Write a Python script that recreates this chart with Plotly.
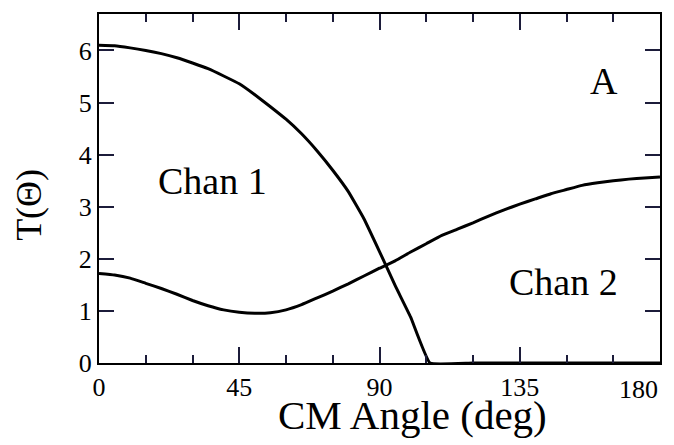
import plotly.graph_objects as go

# Channel 1 transmission vs CM angle
chan1_angle = [0, 5, 10, 15, 20, 25, 30, 35, 40, 45, 50, 55, 60, 65, 70, 75, 80, 85, 90, 95, 100, 106.2, 120, 140, 160, 180]
chan1_T = [6.10, 6.09, 6.05, 6.00, 5.94, 5.86, 5.76, 5.65, 5.51, 5.36, 5.15, 4.92, 4.68, 4.40, 4.07, 3.70, 3.29, 2.77, 2.14, 1.49, 0.88, 0.0, 0.0, 0.0, 0.0, 0.0]

# Channel 2 transmission vs CM angle
chan2_angle = [0, 5, 10, 15, 20, 25, 30, 35, 40, 45, 50, 55, 60, 65, 70, 75, 80, 85, 90, 95, 100, 105, 110, 115, 120, 125, 130, 135, 140, 145, 150, 155, 160, 165, 170, 175, 180]
chan2_T = [1.72, 1.69, 1.63, 1.53, 1.43, 1.32, 1.20, 1.10, 1.02, 0.975, 0.955, 0.965, 1.02, 1.12, 1.25, 1.38, 1.52, 1.67, 1.82, 1.96, 2.13, 2.29, 2.45, 2.57, 2.69, 2.82, 2.94, 3.05, 3.15, 3.25, 3.33, 3.41, 3.46, 3.50, 3.53, 3.55, 3.57]

x_ticks = [0, 45, 90, 135, 180]
x_ticktext = ["0", "45", "90", "135", ""]
x_minor_ticks = [15, 30, 60, 75, 105, 120, 150, 165]
y_ticks = [0, 1, 2, 3, 4, 5, 6]

FONT = "Liberation Serif"
INK = "black"
TICK = "#1c1c3a"

fig = go.Figure()
fig.add_trace(go.Scatter(x=chan1_angle, y=chan1_T, mode="lines", line=dict(color=INK, width=3, shape="spline", smoothing=0.3)))
fig.add_trace(go.Scatter(x=chan2_angle, y=chan2_T, mode="lines", xaxis="x2", line=dict(color=INK, width=3, shape="spline", smoothing=0.3)))

fig.update_layout(
    width=674, height=445,
    margin=dict(l=99, r=12, t=13, b=82),
    plot_bgcolor="white", showlegend=False,
    font=dict(family=FONT, size=26, color=INK),
    xaxis=dict(range=[0, 180], tickvals=x_ticks, ticktext=x_ticktext,
               ticks="inside", ticklen=16, tickwidth=2, tickcolor=TICK,
               showline=True, linewidth=2, linecolor=INK, mirror="ticks", showgrid=False, zeroline=False),
    xaxis2=dict(range=[0, 180], overlaying="x", side="bottom", tickvals=x_minor_ticks,
                ticks="inside", ticklen=8, tickwidth=2, tickcolor=TICK, showticklabels=False,
                showline=True, linewidth=2, linecolor=INK, mirror="ticks", showgrid=False, zeroline=False),
    yaxis=dict(range=[0, 6.7], tickvals=y_ticks, ticks="inside", ticklen=15, tickwidth=2, tickcolor=TICK,
               showline=True, linewidth=2, linecolor=INK, mirror="ticks", showgrid=False, zeroline=False),
    annotations=[
        dict(text="180", xref="x", yref="paper", x=180, y=-0.03, xanchor="right", yanchor="top",
             showarrow=False, font=dict(size=26, family=FONT, color=INK)),
        dict(text="CM Angle (deg)", xref="paper", yref="paper", x=0.558, y=-0.15, xanchor="center", yanchor="middle",
             showarrow=False, font=dict(size=41, family=FONT, color=INK)),
        dict(text="T(Θ)", xref="paper", yref="paper", x=-0.126, y=0.454, xanchor="center", yanchor="middle",
             textangle=-90, showarrow=False, font=dict(size=36, family=FONT, color=INK)),
        dict(text="Chan 1", x=36.4, y=3.5, xref="x", yref="y", showarrow=False, font=dict(size=38, family=FONT, color=INK)),
        dict(text="Chan 2", x=148.9, y=1.55, xref="x", yref="y", showarrow=False, font=dict(size=38, family=FONT, color=INK)),
        dict(text="A", x=162.1, y=5.42, xref="x", yref="y", showarrow=False, font=dict(size=38, family=FONT, color=INK)),
    ],
)

fig.write_html("out.html")
